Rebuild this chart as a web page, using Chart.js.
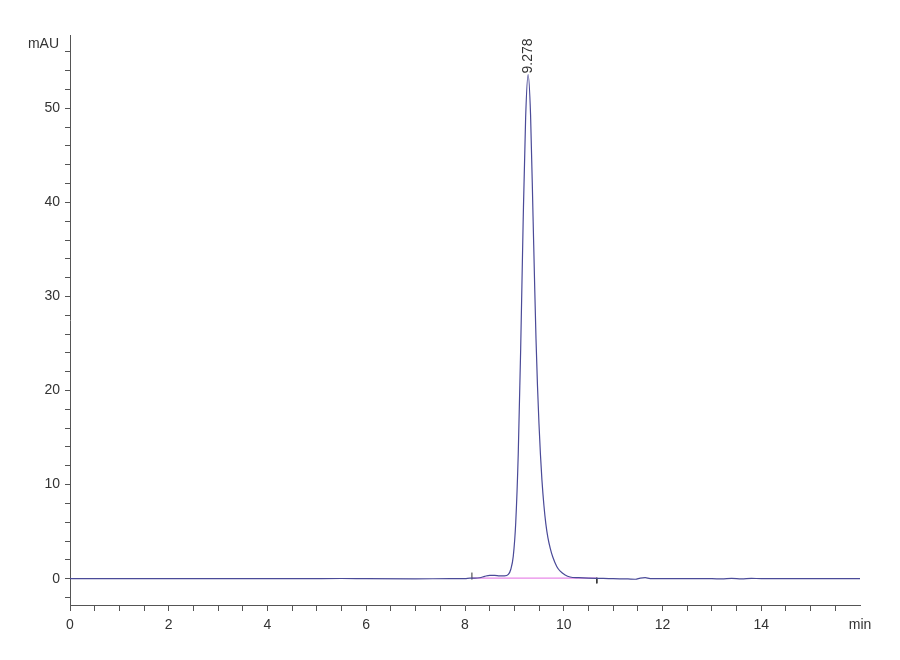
<!DOCTYPE html>
<html>
<head>
<meta charset="utf-8">
<script src="https://cdn.jsdelivr.net/npm/chart.js@4.4.1/dist/chart.umd.min.js"></script>
<style>
  html,body{margin:0;padding:0;background:#fff;}
  #wrap{width:900px;height:660px;position:relative;}
</style>
</head>
<body>
<div id="wrap"><canvas id="c"></canvas></div>
<script>
// ---- Data ----
const timeMin = [0, 1, 2, 3, 4, 4.7, 5.5, 6.0, 7.0, 7.7, 8.0, 8.1, 8.2, 8.3, 8.4, 8.5, 8.6, 8.7, 8.8,
  8.878, 8.928, 8.978, 9.028, 9.078, 9.128, 9.178, 9.228, 9.278, 9.328, 9.378, 9.408, 9.438, 9.468,
  9.498, 9.528, 9.558, 9.598, 9.638, 9.678, 9.728, 9.778, 9.858, 9.928, 10.028, 10.128, 10.3, 10.5,
  10.8, 11.0, 11.3, 11.45, 11.55, 11.65, 11.75, 12.0, 13.0, 13.2, 13.4, 13.6, 13.8, 14.0, 14.5, 15.0, 16.0];
const signalMau = [0, 0, 0, 0, 0, 0, 0.02, 0, -0.02, 0, 0, 0.05, 0.05, 0.1, 0.25, 0.35, 0.35, 0.3, 0.3,
  0.45, 1.0, 2.4, 6.0, 13.2, 24.5, 38.0, 49.0, 53.6, 49.3, 38.5, 31.8, 25.5, 20.5,
  16.5, 13.2, 10.5, 7.8, 5.8, 4.4, 3.2, 2.3, 1.3, 0.8, 0.4, 0.18, 0.1, 0.05,
  0.03, 0, -0.03, -0.06, 0.06, 0.1, 0, 0, 0, -0.03, 0.03, -0.03, 0.03, 0, 0, 0, 0];
const baselineTime = [8.14, 10.67];
const baselineMau = [0.05, 0.05];
const peakTime = 9.278;
const peakHeight = 53.6;
const peakLabel = "9.278";
const startMarkTime = [8.14, 8.14];
const startMarkMau = [-0.1, 0.65];
const endMarkTime = [10.67, 10.67];
const endMarkMau = [0.1, -0.5];
const xMajorLabels = ["0", "2", "4", "6", "8", "10", "12", "14", "min"];
const yMajorLabels = ["0", "10", "20", "30", "40", "50"];
const yUnit = "mAU";

// ---- build chart ----
const toPts = (xs, ys) => xs.map((x, i) => ({x: x, y: ys[i]}));
const xTicks = []; for (let v = 0; v <= 16; v += 0.5) xTicks.push(v);
const yTicks = []; for (let v = -2; v <= 56; v += 2) yTicks.push(v);

const FONT = "'Liberation Sans Narrow','Liberation Sans',Arial,sans-serif";

const annot = {
  id: 'annot',
  afterDatasetsDraw(chart) {
    const {ctx, scales: {x, y}} = chart;
    ctx.save();
    ctx.translate(x.getPixelForValue(peakTime), y.getPixelForValue(peakHeight) - 1);
    ctx.rotate(-Math.PI / 2);
    ctx.fillStyle = '#333';
    ctx.font = '14px ' + FONT;
    ctx.textAlign = 'left';
    ctx.textBaseline = 'middle';
    ctx.fillText(peakLabel, 0, 0);
    ctx.restore();
    ctx.save();
    ctx.fillStyle = '#333';
    ctx.font = '14px ' + FONT;
    ctx.textAlign = 'right';
    ctx.textBaseline = 'middle';
    ctx.fillText(yUnit, 59, y.getPixelForValue(56.8));
    ctx.restore();
  }
};

new Chart(document.getElementById('c'), {
  type: 'line',
  data: {
    datasets: [
      {data: toPts(timeMin, signalMau), borderColor: '#4a4a98', borderWidth: 1.2, pointRadius: 0,
       cubicInterpolationMode: 'monotone', fill: false},
      {data: toPts(startMarkTime, startMarkMau), borderColor: '#333', borderWidth: 1, pointRadius: 0},
      {data: toPts(endMarkTime, endMarkMau), borderColor: '#333', borderWidth: 1, pointRadius: 0},
      {data: toPts(baselineTime, baselineMau), borderColor: '#e88ae8', borderWidth: 1.2, pointRadius: 0}
    ]
  },
  options: {
    responsive: true,
    maintainAspectRatio: false,
    animation: false,
    layout: {padding: {top: 35, right: 40, left: 0, bottom: 0}},
    plugins: {legend: {display: false}, tooltip: {enabled: false}},
    scales: {
      x: {
        type: 'linear', min: 0, max: 16,
        afterFit(s) { s.height = 55; },
        afterBuildTicks(s) { s.ticks = xTicks.map(v => ({value: v})); },
        grid: {drawOnChartArea: false, drawTicks: true, tickLength: 6,
               tickColor: (c) => (c.tick && c.tick.value === 16) ? 'rgba(0,0,0,0)' : '#555'},
        border: {display: true, color: '#555', width: 1},
        ticks: {
          autoSkip: false, maxRotation: 0, padding: 6, color: '#333',
          font: {size: 14, family: FONT},
          callback: (v) => (v % 2 === 0) ? xMajorLabels[v / 2] : ''
        }
      },
      y: {
        type: 'linear', min: -2.8, max: 57.8,
        afterFit(s) { s.width = 70; },
        afterBuildTicks(s) { s.ticks = yTicks.map(v => ({value: v})); },
        grid: {drawOnChartArea: false, drawTicks: true, tickLength: 5, tickColor: '#555'},
        border: {display: true, color: '#555', width: 1},
        ticks: {
          autoSkip: false, padding: 5, color: '#333',
          font: {size: 14, family: FONT},
          callback: (v) => (v % 10 === 0 && v >= 0) ? yMajorLabels[v / 10] : ''
        }
      }
    }
  },
  plugins: [annot]
});
</script>
</body>
</html>
